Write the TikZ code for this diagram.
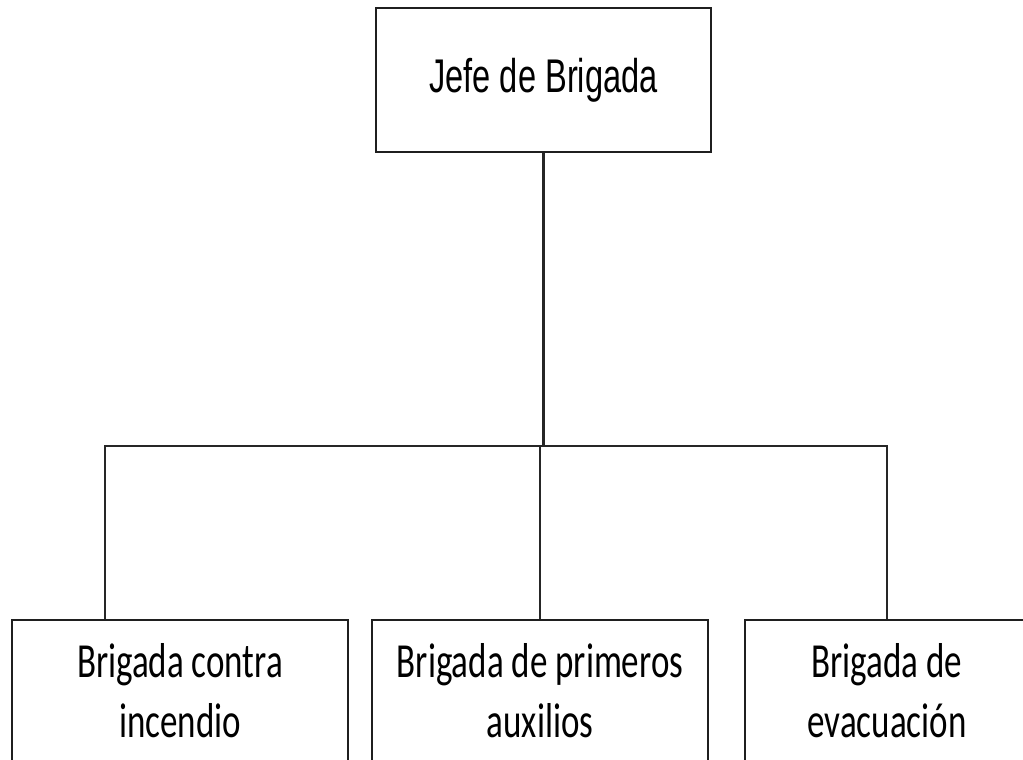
\documentclass[tikz,border=0pt]{standalone}
\usepackage{fontspec}
\setmainfont{Carlito}
\newfontfamily\arialfont{Liberation Sans}
\begin{document}
\begin{tikzpicture}[x=1pt,y=1pt,
  box/.style={draw=black!88, line width=2.4pt, rectangle, inner sep=0pt},
  toptext/.style={inner sep=0pt, font={\arialfont\fontsize{32.6}{39}\selectfont}, yscale=1.45, transform shape},
  boxtext/.style={inner sep=0pt, align=center, font={\fontsize{35}{43}\selectfont}, yscale=1.4, transform shape},
  link/.style={draw=black!85, line width=2.4pt}]
\useasboundingbox (0,0) rectangle (1023,-760);
\clip (0,0) rectangle (1023,-760);
\fill[white] (0,0) rectangle (1023,-760);
% top box
\node[box, minimum width=335pt, minimum height=144pt] (jefe) at (543.5,-80) {};
\node[toptext] (jefet) at (543.5,-80) {Jefe de Brigada};
% bottom boxes (cut off by the lower edge)
\node[box, minimum width=336pt, minimum height=220pt, anchor=north] (b1) at (180,-619) {};
\node[box, minimum width=336pt, minimum height=220pt, anchor=north] (b2) at (540,-619) {};
\node[box, minimum width=336pt, minimum height=220pt, anchor=north west] (b3) at (744,-619) {};
\node[boxtext] (t1) at (180,-691) {Brigada contra\\incendio};
\node[boxtext] (t2) at (540,-691) {Brigada de primeros\\auxilios};
\node[boxtext] (t3) at (887,-691) {Brigada de\\evacuación};
% connectors
\coordinate (barL) at (105,-446);
\coordinate (barR) at (887,-446);
\draw[link] (jefe.south) -- (jefe.south |- barL);
\draw[link] (barL |- b1.north) -- (barL) -- (barR) -- (barR |- b3.north);
\draw[link] (b2.north) -- (b2.north |- barL);
\end{tikzpicture}
\end{document}
